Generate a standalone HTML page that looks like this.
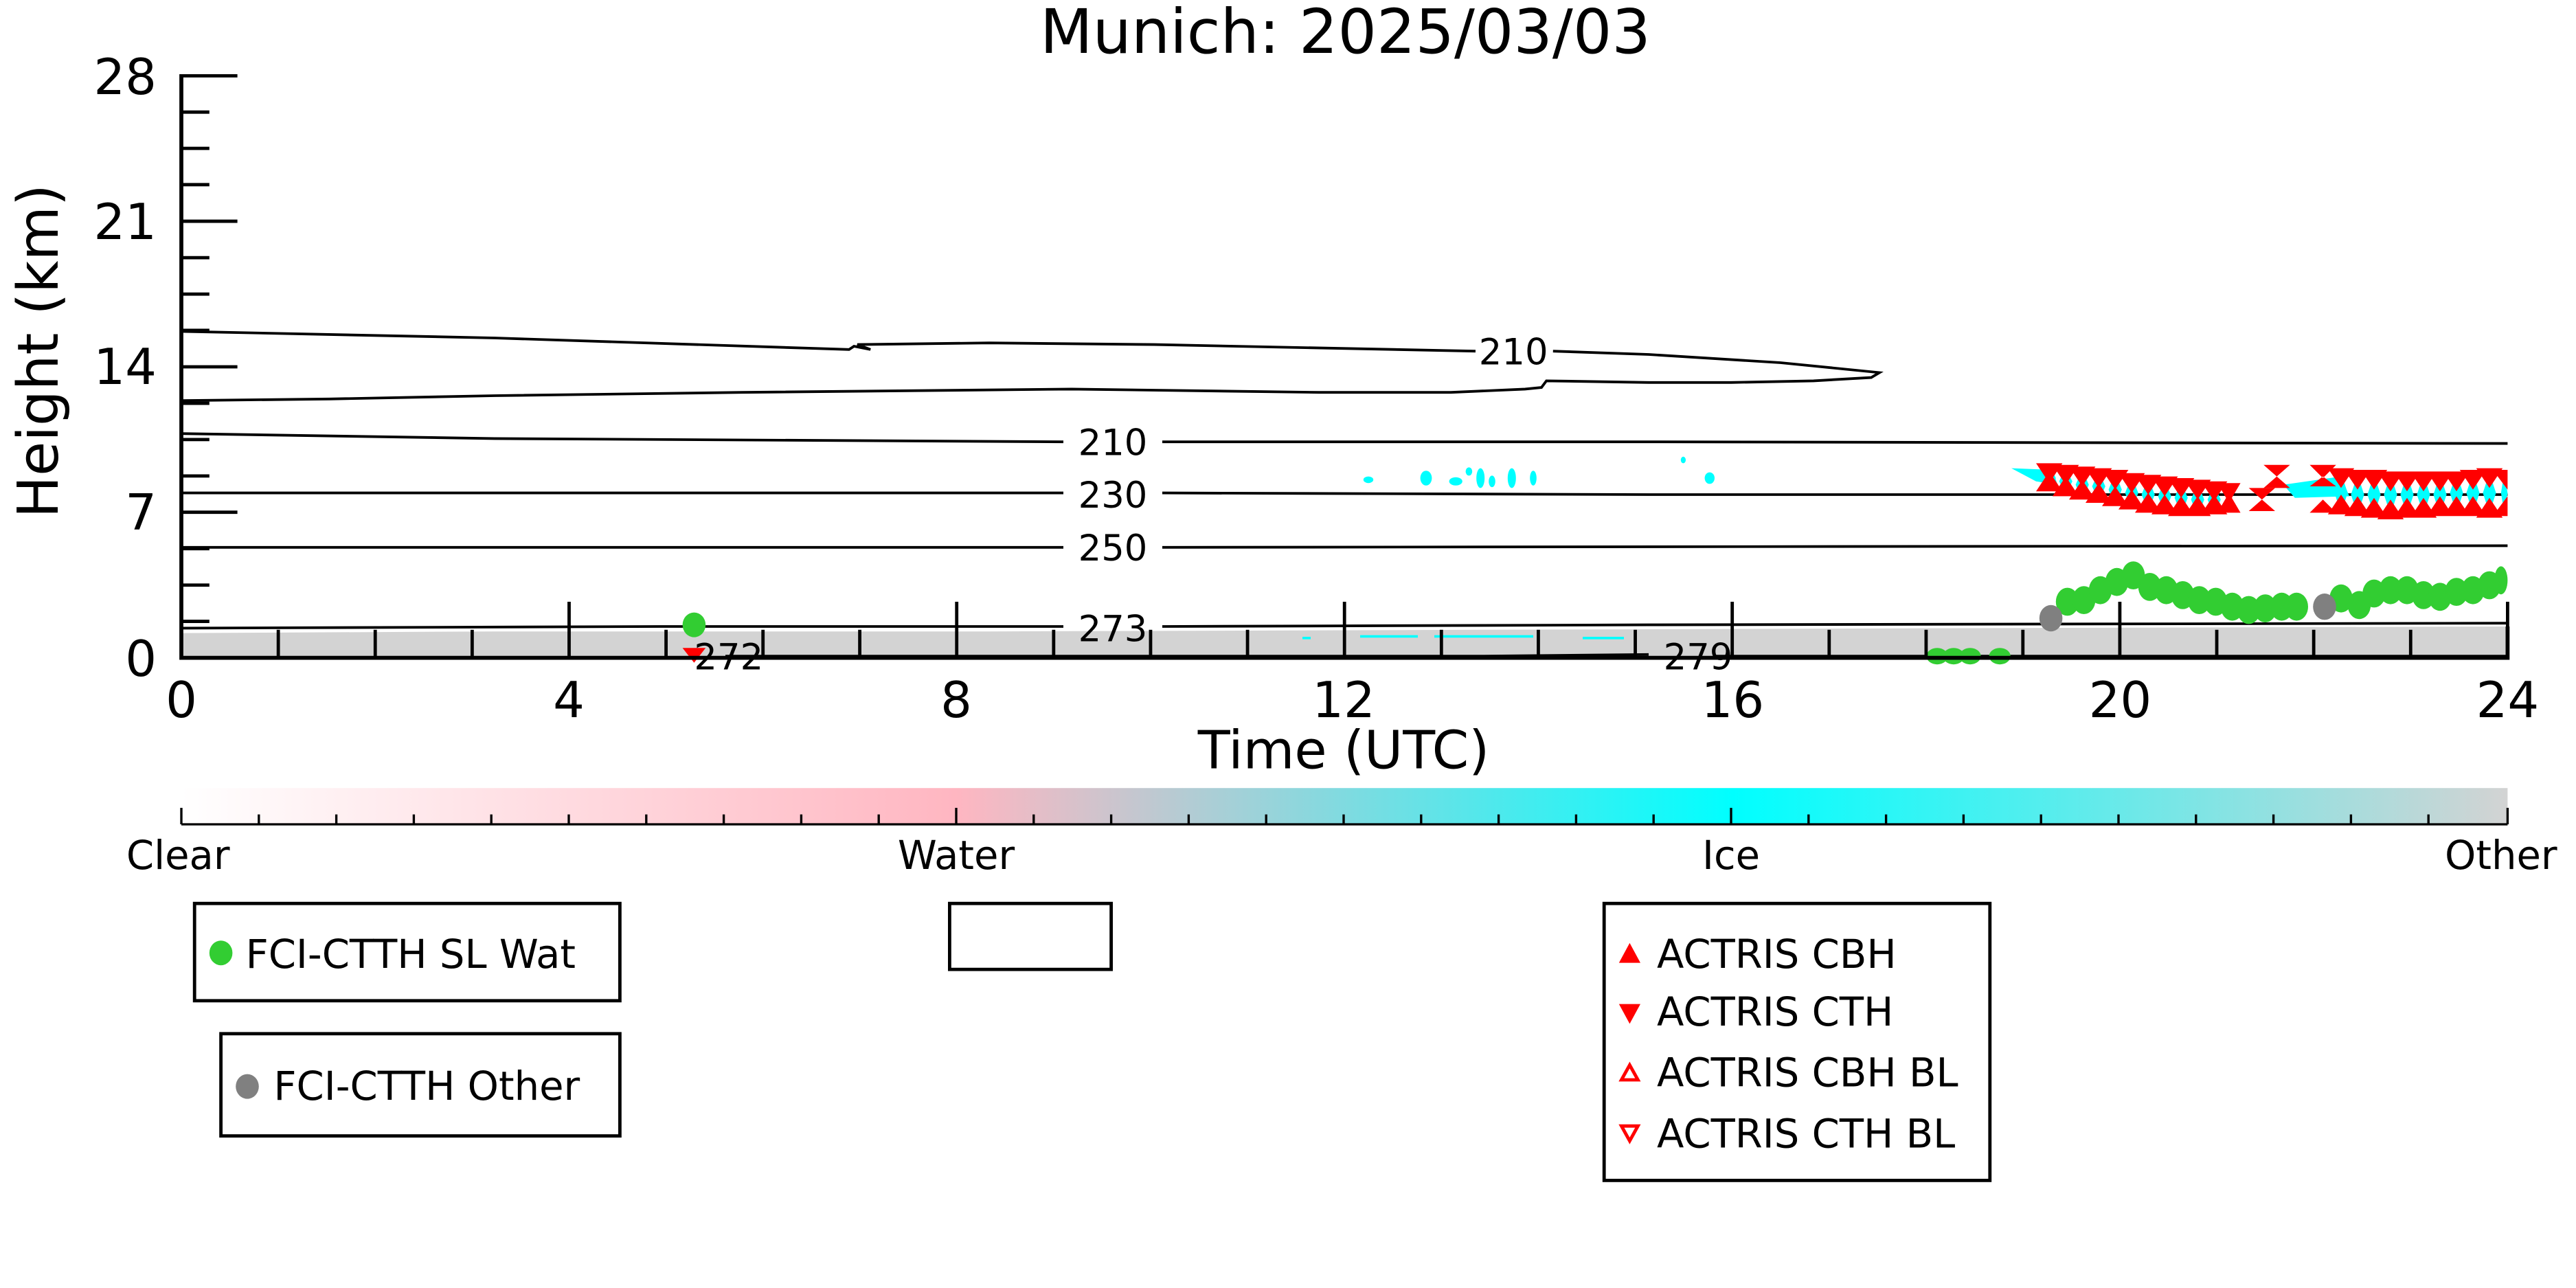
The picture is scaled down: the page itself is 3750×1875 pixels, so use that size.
<!DOCTYPE html>
<html><head><meta charset="utf-8"><style>
html,body{margin:0;padding:0;background:#fff;}
svg{display:block;}
text{font-family:"DejaVu Sans","Liberation Sans",sans-serif;}
</style></head><body>
<svg width="3750" height="1875" viewBox="0 0 1562.5 781.25" xmlns="http://www.w3.org/2000/svg">
<defs>
<linearGradient id="cb" x1="0" x2="1" y1="0" y2="0">
<stop offset="0" stop-color="#ffffff"/>
<stop offset="0.333" stop-color="#ffb6c1"/>
<stop offset="0.667" stop-color="#00ffff"/>
<stop offset="1" stop-color="#d3d3d3"/>
</linearGradient>
</defs>
<rect width="1562.5" height="781.25" fill="#fff"/>
<text x="816" y="32" font-size="37" text-anchor="middle">Munich: 2025/03/03</text>

<path d="M110,384 L300,383 L600,383 L900,382 L1200,381 L1521,380 L1521,399 L110,399 Z" fill="#d3d3d3"/>
<g stroke="#00ffff" stroke-width="1.5">
<line x1="825" y1="386" x2="860" y2="386"/><line x1="870" y1="386" x2="930" y2="386"/><line x1="960" y1="387" x2="985" y2="387"/><line x1="790" y1="387" x2="795" y2="387"/>
</g>
<g fill="none" stroke="#000" stroke-width="1.6">
<path d="M110,201 L300,205 L515,212 L518,210 L528,212 L520,209 L600,208 L700,209 L895,213 M942,213 L1000,215 L1080,220 L1140,226 L1135,229 L1100,231 L1050,232 L1000,232 L938,231 L935,235 L925,236 L880,238 L800,238 L650,236 L450,238 L300,240 L200,242 L110,243"/>
<path d="M110,263 L300,266 L645,268 M705,268 L1000,268 L1521,269"/>
<path d="M110,299 L645,299 M705,299 L1000,300 L1521,300"/>
<path d="M110,332 L645,332 M705,332 L1521,331"/>
<path d="M110,381 L400,380 L645,380 M705,380 L1000,379 L1521,378"/>
<path d="M440,398 L900,398 L1000,397 M1040,398 L1521,398"/>
</g>
<g font-size="22" text-anchor="middle">
<text x="918" y="221">210</text>
<text x="675" y="276">210</text>
<text x="675" y="308">230</text>
<text x="675" y="340">250</text>
<text x="675" y="389">273</text>
<text x="442" y="406">272</text>
<text x="1030" y="406">279</text>
</g>
<g fill="#00ffff">
<ellipse cx="830" cy="291" rx="3" ry="2"/><ellipse cx="865" cy="290" rx="3.5" ry="4.5"/><ellipse cx="883" cy="292" rx="4" ry="2.5"/>
<ellipse cx="891" cy="286" rx="2" ry="2.5"/><ellipse cx="898" cy="290" rx="2.5" ry="6"/><ellipse cx="905" cy="292" rx="2" ry="3.5"/>
<ellipse cx="917" cy="290" rx="2.5" ry="6"/><ellipse cx="930" cy="290" rx="2" ry="4.5"/><ellipse cx="1021" cy="279" rx="1.5" ry="2"/>
<ellipse cx="1037" cy="290" rx="3" ry="3.5"/>
<path d="M1220,284 L1245,285 L1248,294 L1235,292 Z"/>
<path d="M1385,294 L1420,289 L1425,301 L1392,302 Z"/>
</g>
<g fill="#00ffff">
<path d="M1243,282 l4,8 l-4,8 l-4,-8Z M1253,284 l4,8 l-4,8 l-4,-8Z M1263,285 l4,9 l-4,9 l-4,-9Z M1273,286 l4,9 l-4,9 l-4,-9Z M1283,287 l4,10 l-4,10 l-4,-10Z M1293,289 l4,10 l-4,10 l-4,-10Z M1303,290 l4,10 l-4,10 l-4,-10Z M1313,291 l4,10 l-4,10 l-4,-10Z M1323,292 l4,10 l-4,10 l-4,-10Z M1333,293 l4,10 l-4,10 l-4,-10Z M1343,294 l4,9 l-4,9 l-4,-9Z"/>
<path d="M1420,287 l4,12 l-4,12 l-4,-12Z M1430,288 l4,12 l-4,12 l-4,-12Z M1440,288 l4,12 l-4,12 l-4,-12Z M1450,288 l4,12 l-4,12 l-4,-12Z M1460,288 l4,12 l-4,12 l-4,-12Z M1470,288 l4,12 l-4,12 l-4,-12Z M1480,288 l4,12 l-4,12 l-4,-12Z M1490,287 l4,12 l-4,12 l-4,-12Z M1500,287 l4,12 l-4,12 l-4,-12Z M1510,287 l4,12 l-4,12 l-4,-12Z M1519,287 l2,12 l-2,12 l-2,-12Z"/>
</g>
<g fill="#ff0000">
<path d="M1235,281 h16 l-8,12Z M1245,282 h16 l-8,12Z M1255,283 h16 l-8,12Z M1265,284 h16 l-8,12Z M1275,285 h16 l-8,12Z M1285,287 h16 l-8,12Z M1295,288 h16 l-8,12Z M1305,289 h16 l-8,12Z M1315,290 h16 l-8,12Z M1325,291 h16 l-8,12Z M1335,292 h16 l-8,12Z"/>
<path d="M1235,298 h16 l-8,-12Z M1245,301 h16 l-8,-12Z M1255,303 h16 l-8,-12Z M1265,305 h16 l-8,-12Z M1275,307 h16 l-8,-12Z M1285,309 h16 l-8,-12Z M1295,311 h16 l-8,-12Z M1305,312 h16 l-8,-12Z M1315,313 h16 l-8,-12Z M1325,313 h16 l-8,-12Z M1335,312 h16 l-8,-12Z M1345,311 h14 l-7,-12Z"/>
<path d="M1345,293 h14 l-7,12Z"/>
<path d="M1364,296 h16 l-8,7Z M1364,310 h16 l-8,-7Z"/>
<path d="M1373,282 h16 l-8,7Z M1373,296 h16 l-8,-7Z"/>
<path d="M1401,282 h16 l-8,8Z M1401,311 h16 l-8,-8Z M1401,295 h16 l-8,-6Z"/>
<path d="M1412,284 h16 l-8,12Z M1422,285 h16 l-8,12Z M1432,285 h16 l-8,12Z M1442,286 h16 l-8,12Z M1452,286 h16 l-8,12Z M1462,286 h16 l-8,12Z M1472,286 h16 l-8,12Z M1482,286 h16 l-8,12Z M1492,285 h16 l-8,12Z M1502,284 h16 l-8,12Z M1512,285 h9 v12Z"/>
<path d="M1412,312 h16 l-8,-12Z M1422,313 h16 l-8,-12Z M1432,314 h16 l-8,-12Z M1442,315 h16 l-8,-12Z M1452,314 h16 l-8,-12Z M1462,314 h16 l-8,-12Z M1472,313 h16 l-8,-12Z M1482,313 h16 l-8,-12Z M1492,313 h16 l-8,-12Z M1502,314 h16 l-8,-12Z M1512,313 h9 v-12Z"/>
</g>
<g fill="#32cd32">
<ellipse cx="421" cy="379" rx="7" ry="7.5"/>
<ellipse cx="1254" cy="365" rx="7" ry="8.5"/><ellipse cx="1264" cy="364" rx="7" ry="8.5"/><ellipse cx="1274" cy="358" rx="7" ry="8.5"/><ellipse cx="1284" cy="353" rx="7" ry="8.5"/><ellipse cx="1294" cy="349" rx="7" ry="8.5"/>
<ellipse cx="1304" cy="356" rx="7" ry="8.5"/><ellipse cx="1314" cy="358" rx="7" ry="8.5"/><ellipse cx="1324" cy="361" rx="7" ry="8.5"/><ellipse cx="1334" cy="364" rx="7" ry="8.5"/><ellipse cx="1344" cy="365" rx="7" ry="8.5"/>
<ellipse cx="1354" cy="368" rx="7" ry="8.5"/><ellipse cx="1364" cy="370" rx="7" ry="8.5"/><ellipse cx="1374" cy="369" rx="7" ry="8.5"/><ellipse cx="1384" cy="368" rx="7" ry="8.5"/><ellipse cx="1393" cy="368" rx="7" ry="8.5"/>
<ellipse cx="1420" cy="363" rx="7" ry="8.5"/><ellipse cx="1431" cy="367" rx="7" ry="8.5"/><ellipse cx="1440" cy="360" rx="7" ry="8.5"/><ellipse cx="1450" cy="358" rx="7" ry="8.5"/><ellipse cx="1460" cy="358" rx="7" ry="8.5"/>
<ellipse cx="1470" cy="361" rx="7" ry="8.5"/><ellipse cx="1480" cy="362" rx="7" ry="8.5"/><ellipse cx="1490" cy="359" rx="7" ry="8.5"/><ellipse cx="1500" cy="358" rx="7" ry="8.5"/><ellipse cx="1510" cy="355" rx="7" ry="8.5"/><ellipse cx="1517" cy="352" rx="4" ry="8.5"/>
<ellipse cx="1175" cy="398" rx="6.5" ry="5"/><ellipse cx="1185" cy="398" rx="6.5" ry="5"/><ellipse cx="1195" cy="398" rx="6.5" ry="5"/><ellipse cx="1213" cy="398" rx="6.5" ry="5"/>
</g>
<g fill="#808080"><ellipse cx="1244" cy="375" rx="7" ry="8"/><ellipse cx="1410" cy="368" rx="7" ry="8"/></g>
<path d="M414,393 h14 l-7,9Z" fill="#ff0000"/>

<g stroke="#000" stroke-width="2.4" fill="none">
<path d="M110,45 V399 H1521 V380"/>
</g>
<g stroke="#000" stroke-width="2">
<line x1="110" y1="46" x2="144" y2="46"/><line x1="110" y1="134.2" x2="144" y2="134.2"/><line x1="110" y1="222.5" x2="144" y2="222.5"/><line x1="110" y1="310.7" x2="144" y2="310.7"/>
<line x1="110" y1="68" x2="127" y2="68"/><line x1="110" y1="90" x2="127" y2="90"/><line x1="110" y1="112" x2="127" y2="112"/>
<line x1="110" y1="156.3" x2="127" y2="156.3"/><line x1="110" y1="178.4" x2="127" y2="178.4"/><line x1="110" y1="200.4" x2="127" y2="200.4"/>
<line x1="110" y1="244.6" x2="127" y2="244.6"/><line x1="110" y1="266.6" x2="127" y2="266.6"/><line x1="110" y1="288.7" x2="127" y2="288.7"/>
<line x1="110" y1="332.8" x2="127" y2="332.8"/><line x1="110" y1="354.9" x2="127" y2="354.9"/><line x1="110" y1="376.9" x2="127" y2="376.9"/>
<line x1="345.2" y1="399" x2="345.2" y2="365"/><line x1="580.3" y1="399" x2="580.3" y2="365"/><line x1="815.5" y1="399" x2="815.5" y2="365"/><line x1="1050.7" y1="399" x2="1050.7" y2="365"/><line x1="1285.8" y1="399" x2="1285.8" y2="365"/><line x1="1521" y1="399" x2="1521" y2="365"/>
<line x1="168.8" y1="399" x2="168.8" y2="382"/><line x1="227.6" y1="399" x2="227.6" y2="382"/><line x1="286.4" y1="399" x2="286.4" y2="382"/>
<line x1="404" y1="399" x2="404" y2="382"/><line x1="462.8" y1="399" x2="462.8" y2="382"/><line x1="521.5" y1="399" x2="521.5" y2="382"/>
<line x1="639.1" y1="399" x2="639.1" y2="382"/><line x1="697.9" y1="399" x2="697.9" y2="382"/><line x1="756.7" y1="399" x2="756.7" y2="382"/>
<line x1="874.3" y1="399" x2="874.3" y2="382"/><line x1="933.1" y1="399" x2="933.1" y2="382"/><line x1="991.9" y1="399" x2="991.9" y2="382"/>
<line x1="1109.5" y1="399" x2="1109.5" y2="382"/><line x1="1168.3" y1="399" x2="1168.3" y2="382"/><line x1="1227" y1="399" x2="1227" y2="382"/>
<line x1="1344.6" y1="399" x2="1344.6" y2="382"/><line x1="1403.4" y1="399" x2="1403.4" y2="382"/><line x1="1462.2" y1="399" x2="1462.2" y2="382"/>
</g>
<g font-size="30" text-anchor="end">
<text x="95" y="57">28</text><text x="95" y="145">21</text><text x="95" y="233">14</text><text x="95" y="321">7</text><text x="95" y="410">0</text>
</g>
<g font-size="30" text-anchor="middle">
<text x="110" y="435">0</text><text x="345" y="435">4</text><text x="580" y="435">8</text><text x="815" y="435">12</text><text x="1051" y="435">16</text><text x="1286" y="435">20</text><text x="1521" y="435">24</text>
</g>
<text x="815" y="466" font-size="32" text-anchor="middle">Time (UTC)</text>
<text transform="translate(35,213) rotate(-90)" font-size="34" text-anchor="middle">Height (km)</text>

<rect x="110" y="478" width="1411" height="22" fill="url(#cb)"/>
<g stroke="#000" stroke-width="1.4">
<line x1="110" y1="500" x2="1521" y2="500"/>
<line x1="110" y1="500" x2="110" y2="490"/><line x1="157" y1="500" x2="157" y2="494"/><line x1="204" y1="500" x2="204" y2="494"/><line x1="251" y1="500" x2="251" y2="494"/><line x1="298" y1="500" x2="298" y2="494"/><line x1="345" y1="500" x2="345" y2="494"/><line x1="392" y1="500" x2="392" y2="494"/><line x1="439" y1="500" x2="439" y2="494"/><line x1="486" y1="500" x2="486" y2="494"/><line x1="533" y1="500" x2="533" y2="494"/><line x1="580" y1="500" x2="580" y2="490"/><line x1="627" y1="500" x2="627" y2="494"/><line x1="674" y1="500" x2="674" y2="494"/><line x1="721" y1="500" x2="721" y2="494"/><line x1="768" y1="500" x2="768" y2="494"/><line x1="815" y1="500" x2="815" y2="494"/><line x1="862" y1="500" x2="862" y2="494"/><line x1="909" y1="500" x2="909" y2="494"/><line x1="956" y1="500" x2="956" y2="494"/><line x1="1003" y1="500" x2="1003" y2="494"/><line x1="1050" y1="500" x2="1050" y2="490"/><line x1="1097" y1="500" x2="1097" y2="494"/><line x1="1144" y1="500" x2="1144" y2="494"/><line x1="1191" y1="500" x2="1191" y2="494"/><line x1="1238" y1="500" x2="1238" y2="494"/><line x1="1285" y1="500" x2="1285" y2="494"/><line x1="1332" y1="500" x2="1332" y2="494"/><line x1="1379" y1="500" x2="1379" y2="494"/><line x1="1426" y1="500" x2="1426" y2="494"/><line x1="1473" y1="500" x2="1473" y2="494"/><line x1="1521" y1="500" x2="1521" y2="490"/>
</g>
<g font-size="24" text-anchor="middle">
<text x="108" y="527">Clear</text><text x="580" y="527">Water</text><text x="1050" y="527">Ice</text><text x="1517" y="527">Other</text>
</g>

<g fill="none" stroke="#000" stroke-width="2">
<rect x="118" y="548" width="258" height="59"/>
<rect x="134" y="627" width="242" height="62"/>
<rect x="576" y="548" width="98" height="40"/>
<rect x="973" y="548" width="234" height="168"/>
</g>
<ellipse cx="134" cy="578" rx="7" ry="7.5" fill="#32cd32"/>
<ellipse cx="150" cy="659" rx="7" ry="7.5" fill="#808080"/>
<g font-size="24">
<text x="149" y="587">FCI-CTTH SL Wat</text>
<text x="166" y="667">FCI-CTTH Other</text>
<text x="1005" y="587">ACTRIS CBH</text>
<text x="1005" y="622">ACTRIS CTH</text>
<text x="1005" y="659">ACTRIS CBH BL</text>
<text x="1005" y="696">ACTRIS CTH BL</text>
</g>
<path d="M982,584 h13 l-6.5,-12Z M982,609 h13 l-6.5,12Z" fill="#ff0000"/>
<path d="M983.5,655 h10 l-5,-9Z M983.5,683 h10 l-5,9Z" fill="none" stroke="#ff0000" stroke-width="2"/>
</svg>
</body></html>
